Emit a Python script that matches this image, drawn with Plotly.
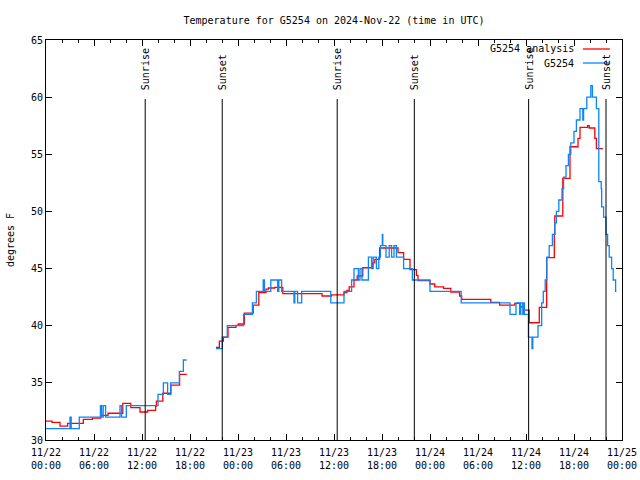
import plotly.graph_objects as go
import pandas as pd

START = pd.Timestamp("2024-11-22 00:00")

# G5254 analysis (red) : hours since start, temperature F
analysis_hours = [0, 0.75, 1.75, 2.7, 4.66, 5.8, 6.84, 7.75, 9.6, 10.6, 11.75, 12.7, 13.7, 13.8,
                  14.6, 15.6, 16.7, 17.6, None,
                  21.25, 21.67, 22.17, 22.75, 23.75, 24.04, 24.8, 25.9, 26.6, 27.5, 27.8, 28.6,
                  29.6, 34.5, 35.7, 37.25, 37.6, 37.9, 38.5, 38.9, 39.6, 40.8, 41.1, 41.7, 44.0,
                  44.7, 45.5, 46.3, 46.5, 48.0, 48.6, 49.7, 50.6, 51.7, 51.96, 55.6, 56.7, 58.6,
                  59.25, 59.75, 60.4, 61.66, 62.58, 63.54, 63.6, 64.6, 65.5, 66.5, 66.75, 67.7,
                  67.9, 68.6, 68.8, 69.6]
analysis_temps = [31.66, 31.55, 31.22, 31.46, 31.81, 31.92, 32.16, 32.34, 33.21, 32.83, 32.45, 32.6,
                  32.97, 33.41, 34.09, 34.81, 35.75, 35.75, None,
                  38.1, 38.66, 39.0, 39.86, 40.03, 40.15, 41.1, 41.8, 42.9, 43.2, 43.3, 43.36,
                  42.8, 42.6, 42.7, 42.9, 43.1, 43.4, 44.0, 44.35, 45.07, 45.5, 45.8, 46.8, 46.4,
                  45.8, 44.9, 44.4, 43.95, 43.65, 43.39, 43.27, 42.95, 42.6, 42.3, 42.04, 41.8,
                  41.96, 41.66, 41.37, 40.26, 41.6, 45.95, 48.0, 49.6, 52.9, 55.66, 56.4, 57.36,
                  57.5, 57.3, 56.4, 55.5, 55.5]

# G5254 observations (blue)
obs_hours = [0, 3.0, 3.15, 4.16, 6.8, 6.95, 7.15, 7.45, 9.25, 9.45, 10.04, 14.0, 14.67, 15.2,
             15.6, 16.67, 17.17, 17.58, None,
             21.25, 22.04, 22.66, 24.7, 25.8, 26.3, 27.15, 27.3, 28.1, 28.96, 29.1, 29.45,
             31.0, 31.1, 31.45, 31.96, 35.6, 37.25, 38.2, 38.5, 39.04, 39.25, 39.5, 40.3,
             40.7, 40.9, 41.3, 41.6, 41.8, 42.04, 42.1, 42.5, 42.9, 43.2, 43.5, 43.8, 44.7,
             45.8, 48.0, 51.9, 58.0, 58.75, 59.2, 59.35, 59.6, 59.7, 59.8, 60.3, 60.75, 60.85,
             61.5, 61.96, 62.16, 62.4, 62.6, 62.9, 63.3, 63.6, 63.8, 64.1, 64.5, 64.7, 65.0,
             65.3, 65.6, 66.0, 66.3, 66.75, 67.1, 67.2, 67.6, 68.1, 68.3, 68.6, 68.8, 69.1,
             69.4, 69.46, 69.7, 70.0, 70.2, 70.4, 70.7, 70.9, 71.2, 71.3]
obs_temps = [31, 32, 31, 32, 33, 32, 33, 32, 33, 32, 33, 34, 35, 34,
             35, 36, 37, 37, None,
             38, 39, 40, 41, 42, 43, 44, 43, 44, 43, 44, 43,
             42, 43, 42, 43, 42, 43, 44, 45, 44, 45, 44, 46,
             45, 46, 45, 46, 47, 48, 47, 46, 47, 46, 47, 46, 45,
             44, 43, 42, 41, 42, 41, 42, 41, 42, 41, 39, 38, 39,
             40, 42, 43, 44, 46, 47, 48, 49, 50, 51, 52, 53, 54,
             55, 56, 57, 58, 59, 58, 59, 60, 61, 60, 60, 59, 52.6,
             52, 50.4, 49.5, 48, 47, 46, 45, 44, 43, 43]

sun_event_hours = [12.4, 22.03, 36.4, 46.04, 60.33, 70.0]
sun_event_labels = ["Sunrise", "Sunset", "Sunrise", "Sunset", "Sunrise", "Sunset"]

x_tick_hours = [0, 6, 12, 18, 24, 30, 36, 42, 48, 54, 60, 66, 72]
x_tick_labels = ["11/22<br>00:00", "11/22<br>06:00", "11/22<br>12:00", "11/22<br>18:00",
                 "11/23<br>00:00", "11/23<br>06:00", "11/23<br>12:00", "11/23<br>18:00",
                 "11/24<br>00:00", "11/24<br>06:00", "11/24<br>12:00", "11/24<br>18:00",
                 "11/25<br>00:00"]
y_tick_vals = [30, 35, 40, 45, 50, 55, 60, 65]

legend_names = ["G5254 analysis", "G5254"]
colors = ["#ff0000", "#0a84ff"]


def to_time(hours):
    return [None if h is None else START + pd.Timedelta(hours=h) for h in hours]


FONT = "DejaVu Sans Mono"

fig = go.Figure()
fig.add_trace(go.Scatter(x=to_time(analysis_hours), y=analysis_temps, mode="lines",
                         line=dict(color=colors[0], width=1.3, shape="hv"),
                         name=legend_names[0], connectgaps=False))
fig.add_trace(go.Scatter(x=to_time(obs_hours), y=obs_temps, mode="lines",
                         line=dict(color=colors[1], width=1.3, shape="hv"),
                         name=legend_names[1], connectgaps=False))

shapes = []
annotations = []
for h, lab in zip(sun_event_hours, sun_event_labels):
    t = START + pd.Timedelta(hours=h)
    shapes.append(dict(type="line", xref="x", yref="paper", x0=t, x1=t, y0=0, y1=0.8525,
                       line=dict(color="black", width=1)))
    annotations.append(dict(x=t, y=0.87, xref="x", yref="paper", text=lab, textangle=-90,
                            showarrow=False, xanchor="center", yanchor="bottom",
                            font=dict(family=FONT, size=10, color="black")))

# manual gnuplot-style legend (text right-aligned, sample on right)
leg_y = [0.9775, 0.9425]
for name, col, yy in zip(legend_names, colors, leg_y):
    annotations.append(dict(x=0.921, y=yy, xref="paper", yref="paper", text=name,
                            showarrow=False, xanchor="right", yanchor="middle",
                            font=dict(family=FONT, size=10, color="black")))
    shapes.append(dict(type="line", xref="paper", yref="paper", x0=0.932, x1=0.979,
                       y0=yy, y1=yy, line=dict(color=col, width=1.3)))

fig.update_layout(
    width=640, height=480,
    margin=dict(l=46, r=18, t=40, b=40),
    paper_bgcolor="white", plot_bgcolor="white",
    showlegend=False,
    font=dict(family=FONT, size=10, color="black"),
    title=dict(text="Temperature for G5254 on 2024-Nov-22 (time in UTC)",
               x=0.5, xref="paper", y=1 - 20 / 480, yref="container",
               xanchor="center", yanchor="middle",
               font=dict(family=FONT, size=10, color="black")),
    shapes=shapes,
    annotations=annotations,
)

fig.update_xaxes(
    type="date", automargin=False,
    range=[START, START + pd.Timedelta(hours=72)],
    tickvals=to_time(x_tick_hours), ticktext=x_tick_labels,
    ticks="inside", ticklen=6, tickwidth=1, tickcolor="black",
    ticklabelstandoff=3,
    minor=dict(ticks="inside", ticklen=3, tickwidth=1, tickcolor="black",
               dtick=2 * 3600 * 1000, tick0=START),
    showline=True, linecolor="black", linewidth=1, mirror="ticks",
    showgrid=False, zeroline=False,
    tickfont=dict(family=FONT, size=10, color="black"),
)
fig.update_yaxes(
    automargin=False,
    range=[30, 65], tickvals=y_tick_vals,
    ticks="inside", ticklen=6, tickwidth=1, tickcolor="black",
    showline=True, linecolor="black", linewidth=1, mirror="ticks",
    showgrid=False, zeroline=False,
    title=dict(text="degrees F", font=dict(family=FONT, size=10, color="black"), standoff=14),
    tickfont=dict(family=FONT, size=10, color="black"),
)

fig.write_html("out.html", config={"displayModeBar": False},
               post_script="document.body.style.margin='0';")
